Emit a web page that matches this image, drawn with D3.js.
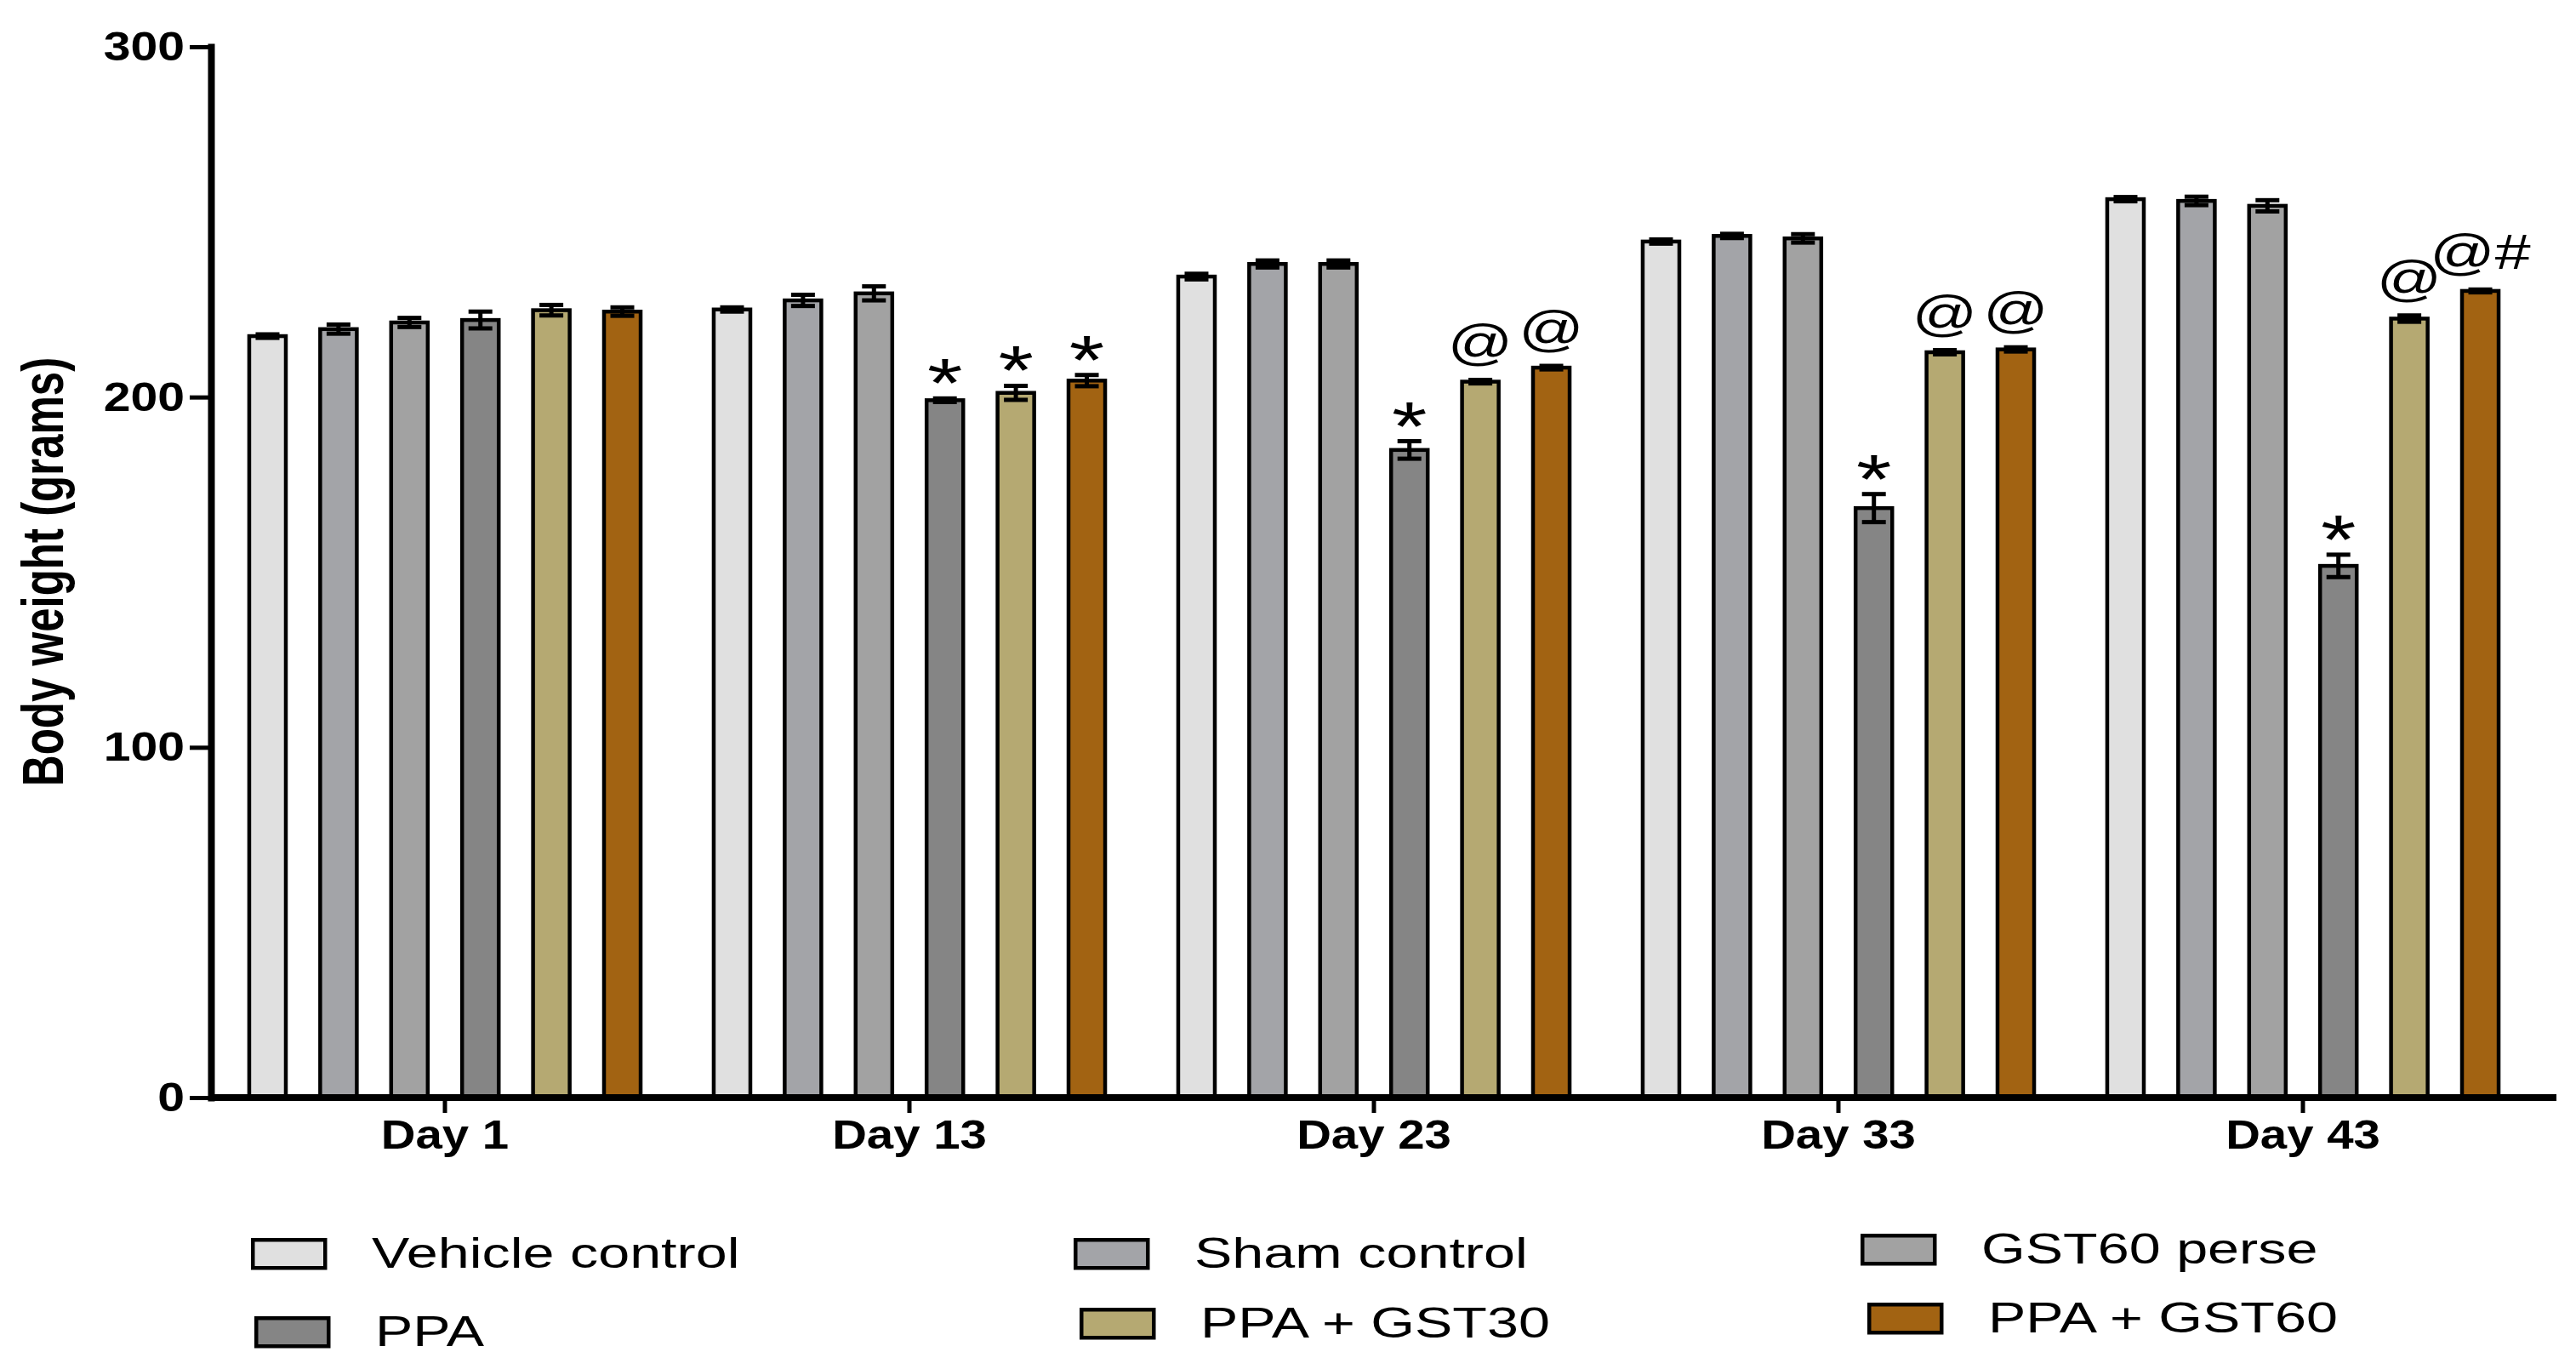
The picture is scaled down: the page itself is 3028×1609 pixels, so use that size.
<!DOCTYPE html>
<html>
<head>
<meta charset="utf-8">
<script src="https://cdn.jsdelivr.net/npm/d3@7"></script>
<style>
  body { margin: 0; background: #fff; }
  svg { display: block; }
</style>
</head>
<body>
<svg id="chart" width="3028" height="1609"></svg>
<script>
// body weight (g), mean and SEM per group
const days = ['Day 1', 'Day 13', 'Day 23', 'Day 33', 'Day 43'];
const groups = ['Vehicle control', 'Sham control', 'GST60 perse', 'PPA', 'PPA + GST30', 'PPA + GST60'];

const vehicleMean = [217.4, 225.0, 234.4, 244.4, 256.5];
const shamMean = [219.4, 227.6, 238.0, 246.0, 256.0];
const gst60Mean = [221.3, 229.6, 238.0, 245.3, 254.6];
const ppaMean = [222.0, 199.1, 184.9, 168.3, 151.8];
const ppaGst30Mean = [224.8, 201.2, 204.4, 212.8, 222.4];
const ppaGst60Mean = [224.4, 204.7, 208.4, 213.6, 230.3];

const vehicleSem = [0.5, 0.6, 0.8, 0.6, 0.6];
const shamSem = [1.3, 1.6, 1.0, 0.6, 1.2];
const gst60Sem = [1.3, 2.0, 1.0, 1.2, 1.6];
const ppaSem = [2.4, 0.5, 2.5, 4.0, 3.2];
const ppaGst30Sem = [1.5, 2.0, 0.5, 0.6, 0.9];
const ppaGst60Sem = [1.2, 1.6, 0.5, 0.6, 0.4];

// significance marks above bars
const vehicleSig = ['', '', '', '', ''];
const shamSig = ['', '', '', '', ''];
const gst60Sig = ['', '', '', '', ''];
const ppaSig = ['', '*', '*', '*', '*'];
const ppaGst30Sig = ['', '*', '@', '@', '@'];
const ppaGst60Sig = ['', '*', '@', '@', '@#'];

const yTicks = [0, 100, 200, 300];
const colors = ['#e0e0e0', '#a3a4a8', '#a2a2a2', '#858585', '#b5a972', '#a26312'];

const means = [vehicleMean, shamMean, gst60Mean, ppaMean, ppaGst30Mean, ppaGst60Mean];
const sems = [vehicleSem, shamSem, gst60Sem, ppaSem, ppaGst30Sem, ppaGst60Sem];
const sigs = [vehicleSig, shamSig, gst60Sig, ppaSig, ppaGst30Sig, ppaGst60Sig];

// legend layout: swatch left/top
const legendPos = [[295, 1455], [1262, 1455], [2187, 1450], [299, 1547], [1269, 1537], [2195, 1531]];

const svg = d3.select('#chart');
const FONT = '"Liberation Sans", Arial, sans-serif';

const x0 = d3.scaleBand().domain(days).range([250, 2980]);
const x1 = d3.scaleBand().domain(groups).range([0, x0.bandwidth()])
  .paddingInner(0.484).paddingOuter(0.515);
const y = d3.scaleLinear().domain([0, 300]).range([1290, 55]);

const data = [];
days.forEach((d, i) => {
  groups.forEach((g, j) => {
    data.push({ day: d, group: g, mean: means[j][i], sem: sems[j][i], sig: sigs[j][i], color: colors[j] });
  });
});

// bars
svg.append('g').selectAll('rect')
  .data(data)
  .enter()
  .append('rect')
  .attr('x', d => x0(d.day) + x1(d.group))
  .attr('y', d => y(d.mean))
  .attr('width', x1.bandwidth())
  .attr('height', d => y(0) - y(d.mean))
  .attr('fill', d => d.color)
  .attr('stroke', '#000')
  .attr('stroke-width', 4.5);

// error bars
const capW = 28;
const eb = svg.append('g').attr('stroke', '#000').attr('stroke-width', 5);
data.forEach(d => {
  const cx = x0(d.day) + x1(d.group) + x1.bandwidth() / 2;
  const top = y(d.mean + d.sem), bot = y(d.mean - d.sem);
  eb.append('line').attr('x1', cx).attr('x2', cx).attr('y1', top).attr('y2', bot);
  eb.append('line').attr('x1', cx - capW / 2).attr('x2', cx + capW / 2).attr('y1', top).attr('y2', top);
  eb.append('line').attr('x1', cx - capW / 2).attr('x2', cx + capW / 2).attr('y1', bot).attr('y2', bot);
});

// significance labels
svg.append('g').selectAll('text')
  .data(data.filter(d => d.sig))
  .enter()
  .append('text')
  .attr('transform', d => {
    const cx = x0(d.day) + x1(d.group) + x1.bandwidth() / 2;
    const top = y(d.mean + d.sem);
    const by = d.sig === '*' ? top + 10 : top - 24;
    return 'translate(' + cx + ',' + by + ') scale(1.3,1)';
  })
  .attr('text-anchor', 'middle')
  .attr('font-family', FONT)
  .attr('font-size', d => d.sig === '*' ? 82 : 58)
  .text(d => d.sig);

// y axis
const gy = svg.append('g')
  .attr('transform', 'translate(248,0)')
  .call(d3.axisLeft(y).tickValues(yTicks).tickSizeInner(25).tickSizeOuter(0).tickPadding(6));
gy.select('.domain').attr('stroke-width', 8).attr('stroke-linecap', 'square');
gy.selectAll('.tick line').attr('stroke-width', 5);
gy.selectAll('.tick text')
  .attr('x', -26)
  .attr('transform', 'scale(1.19,1)')
  .attr('font-family', FONT)
  .attr('font-weight', 'bold')
  .attr('font-size', 48)
  .attr('fill', '#000');

// x axis
const gx = svg.append('g')
  .attr('transform', 'translate(0,1290)')
  .call(d3.axisBottom(x0).tickSizeInner(18).tickSizeOuter(0).tickPadding(8));
gx.select('.domain').attr('d', 'M248,0H3005').attr('stroke-width', 8);
gx.selectAll('.tick line').attr('stroke-width', 5);
gx.selectAll('.tick text')
  .attr('transform', 'scale(1.15,1)')
  .attr('y', 25)
  .attr('dy', '0.71em')
  .attr('font-family', FONT)
  .attr('font-weight', 'bold')
  .attr('font-size', 49)
  .attr('fill', '#000');

// y title
svg.append('text')
  .attr('transform', 'translate(74,672) rotate(-90) scale(1,1.33)')
  .attr('text-anchor', 'middle')
  .attr('font-family', FONT)
  .attr('font-weight', 'bold')
  .attr('font-size', 51)
  .text('Body weight (grams)');

// legend
const lg = svg.append('g').selectAll('g')
  .data(groups)
  .enter()
  .append('g')
  .attr('transform', (d, i) => 'translate(' + legendPos[i][0] + ',' + legendPos[i][1] + ')');
lg.append('rect')
  .attr('x', 2.25).attr('y', 2.25)
  .attr('width', 85).attr('height', 33)
  .attr('fill', (d, i) => colors[i])
  .attr('stroke', '#000')
  .attr('stroke-width', 4.5);
lg.append('text')
  .attr('transform', 'translate(142,35) scale(1.33,1)')
  .attr('font-family', FONT)
  .attr('font-size', 50)
  .text(d => d);
</script>
</body>
</html>
